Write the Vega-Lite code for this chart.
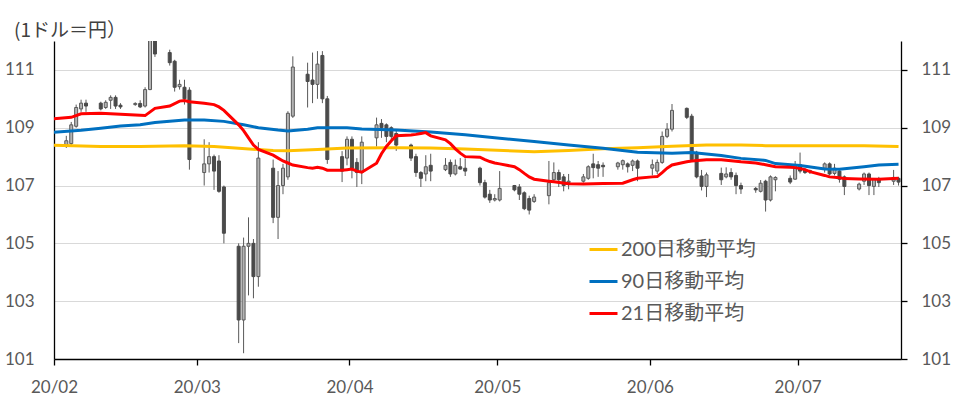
{
  "$schema": "https://vega.github.io/schema/vega-lite/v6.json",
  "width": 847,
  "height": 318,
  "autosize": {"type": "none"},
  "padding": {"left": 54, "top": 41, "right": 55, "bottom": 42},
  "background": "white",
  "config": {"view": {"stroke": null}, "font": "Lato"},
  "title": {"text": "(1ドル＝円）", "anchor": "start", "frame": "group", "dx": -40, "offset": 0, "font": "Noto Sans CJK JP", "fontSize": 19, "fontWeight": "normal", "color": "#404040"},
  "datasets": {
    "ohlc": [
      {"d":"2020-02-03","o":108.4,"h":108.72,"l":108.3,"c":108.55},
      {"d":"2020-02-04","o":108.45,"h":109.2,"l":108.4,"c":109.1},
      {"d":"2020-02-05","o":109.05,"h":109.8,"l":109.0,"c":109.7},
      {"d":"2020-02-06","o":109.65,"h":109.97,"l":109.55,"c":109.85},
      {"d":"2020-02-07","o":109.85,"h":109.97,"l":109.55,"c":109.75},
      {"d":"2020-02-10","o":109.85,"h":109.9,"l":109.6,"c":109.65},
      {"d":"2020-02-11","o":109.7,"h":109.95,"l":109.65,"c":109.88},
      {"d":"2020-02-12","o":109.95,"h":110.12,"l":109.65,"c":110.05},
      {"d":"2020-02-13","o":110.05,"h":110.12,"l":109.65,"c":109.75},
      {"d":"2020-02-14","o":109.78,"h":109.85,"l":109.65,"c":109.72},
      {"d":"2020-02-17","o":109.8,"h":109.88,"l":109.76,"c":109.84},
      {"d":"2020-02-18","o":109.84,"h":109.95,"l":109.68,"c":109.72},
      {"d":"2020-02-19","o":109.75,"h":110.4,"l":109.7,"c":110.32},
      {"d":"2020-02-20","o":110.32,"h":112.3,"l":110.3,"c":112.1},
      {"d":"2020-02-21","o":112.1,"h":112.2,"l":111.45,"c":111.55},
      {"d":"2020-02-24","o":111.6,"h":111.7,"l":111.15,"c":111.25},
      {"d":"2020-02-25","o":111.3,"h":111.35,"l":110.25,"c":110.4},
      {"d":"2020-02-26","o":110.42,"h":110.66,"l":110.32,"c":110.5},
      {"d":"2020-02-27","o":110.4,"h":110.66,"l":109.8,"c":110.0},
      {"d":"2020-02-28","o":110.3,"h":110.4,"l":107.55,"c":107.9},
      {"d":"2020-03-02","o":107.45,"h":108.6,"l":107.0,"c":107.75},
      {"d":"2020-03-03","o":107.75,"h":108.5,"l":107.45,"c":108.0},
      {"d":"2020-03-04","o":108.0,"h":108.07,"l":106.85,"c":107.5},
      {"d":"2020-03-05","o":107.85,"h":108.05,"l":106.75,"c":106.8},
      {"d":"2020-03-06","o":106.95,"h":107.0,"l":105.0,"c":105.35},
      {"d":"2020-03-09","o":104.9,"h":105.0,"l":101.55,"c":102.35},
      {"d":"2020-03-10","o":102.35,"h":105.2,"l":101.2,"c":104.9},
      {"d":"2020-03-11","o":104.9,"h":105.9,"l":103.2,"c":105.0},
      {"d":"2020-03-12","o":105.0,"h":105.15,"l":103.1,"c":103.85},
      {"d":"2020-03-13","o":103.85,"h":108.5,"l":103.5,"c":107.95},
      {"d":"2020-03-16","o":107.6,"h":107.9,"l":105.7,"c":105.9},
      {"d":"2020-03-17","o":105.9,"h":107.5,"l":105.15,"c":107.0},
      {"d":"2020-03-18","o":107.0,"h":107.75,"l":106.7,"c":107.6},
      {"d":"2020-03-19","o":107.3,"h":109.57,"l":107.2,"c":109.5},
      {"d":"2020-03-20","o":109.4,"h":111.47,"l":109.34,"c":111.1},
      {"d":"2020-03-23","o":110.85,"h":111.25,"l":109.7,"c":110.6},
      {"d":"2020-03-24","o":110.65,"h":111.6,"l":109.85,"c":110.5},
      {"d":"2020-03-25","o":110.5,"h":111.65,"l":110.0,"c":111.2},
      {"d":"2020-03-26","o":111.5,"h":111.65,"l":109.85,"c":110.0},
      {"d":"2020-03-27","o":110.0,"h":110.1,"l":107.75,"c":107.9},
      {"d":"2020-03-30","o":108.0,"h":108.19,"l":107.12,"c":107.5},
      {"d":"2020-03-31","o":107.95,"h":108.7,"l":107.7,"c":108.6},
      {"d":"2020-04-01","o":108.6,"h":108.7,"l":107.25,"c":107.6},
      {"d":"2020-04-02","o":107.8,"h":107.95,"l":106.95,"c":107.45},
      {"d":"2020-04-03","o":107.45,"h":108.7,"l":107.05,"c":108.5},
      {"d":"2020-04-06","o":108.65,"h":109.35,"l":108.35,"c":109.1},
      {"d":"2020-04-07","o":109.15,"h":109.3,"l":108.65,"c":109.0},
      {"d":"2020-04-08","o":109.1,"h":109.15,"l":108.5,"c":108.7},
      {"d":"2020-04-09","o":109.0,"h":109.05,"l":108.55,"c":108.7},
      {"d":"2020-04-10","o":108.8,"h":108.9,"l":108.2,"c":108.4},
      {"d":"2020-04-13","o":108.4,"h":108.45,"l":107.85,"c":107.95},
      {"d":"2020-04-14","o":108.0,"h":108.1,"l":107.3,"c":107.45},
      {"d":"2020-04-15","o":107.45,"h":107.5,"l":106.95,"c":107.25},
      {"d":"2020-04-16","o":107.4,"h":108.05,"l":107.15,"c":107.65},
      {"d":"2020-04-17","o":107.7,"h":108.1,"l":107.15,"c":107.5},
      {"d":"2020-04-20","o":107.55,"h":107.95,"l":107.5,"c":107.7},
      {"d":"2020-04-21","o":107.8,"h":107.9,"l":107.3,"c":107.4},
      {"d":"2020-04-22","o":107.4,"h":107.9,"l":107.35,"c":107.7},
      {"d":"2020-04-23","o":107.65,"h":107.95,"l":107.55,"c":107.57},
      {"d":"2020-04-24","o":107.6,"h":107.94,"l":107.33,"c":107.5},
      {"d":"2020-04-27","o":107.6,"h":107.65,"l":107.0,"c":107.1},
      {"d":"2020-04-28","o":107.1,"h":107.2,"l":106.55,"c":106.6},
      {"d":"2020-04-29","o":106.7,"h":106.85,"l":106.4,"c":106.5},
      {"d":"2020-04-30","o":106.5,"h":106.7,"l":106.45,"c":106.55},
      {"d":"2020-05-01","o":106.5,"h":107.5,"l":106.45,"c":106.9},
      {"d":"2020-05-04","o":107.0,"h":107.02,"l":106.8,"c":106.85},
      {"d":"2020-05-05","o":106.95,"h":107.05,"l":106.5,"c":106.7},
      {"d":"2020-05-06","o":106.75,"h":106.8,"l":106.15,"c":106.2},
      {"d":"2020-05-07","o":106.55,"h":106.65,"l":106.0,"c":106.15},
      {"d":"2020-05-08","o":106.45,"h":106.7,"l":106.4,"c":106.6},
      {"d":"2020-05-11","o":106.65,"h":107.85,"l":106.35,"c":107.1},
      {"d":"2020-05-12","o":107.2,"h":107.8,"l":107.1,"c":107.45},
      {"d":"2020-05-13","o":107.45,"h":107.55,"l":106.95,"c":107.2},
      {"d":"2020-05-14","o":107.3,"h":107.4,"l":106.8,"c":107.0},
      {"d":"2020-05-15","o":107.1,"h":107.4,"l":106.87,"c":107.15},
      {"d":"2020-05-18","o":107.15,"h":107.4,"l":107.1,"c":107.3},
      {"d":"2020-05-19","o":107.25,"h":107.7,"l":107.2,"c":107.65},
      {"d":"2020-05-20","o":107.75,"h":108.1,"l":107.25,"c":107.62},
      {"d":"2020-05-21","o":107.72,"h":107.85,"l":107.3,"c":107.6},
      {"d":"2020-05-22","o":107.7,"h":107.8,"l":107.3,"c":107.65},
      {"d":"2020-05-25","o":107.65,"h":107.82,"l":107.55,"c":107.78},
      {"d":"2020-05-26","o":107.72,"h":107.9,"l":107.55,"c":107.86},
      {"d":"2020-05-27","o":107.75,"h":107.8,"l":107.45,"c":107.65},
      {"d":"2020-05-28","o":107.7,"h":107.9,"l":107.5,"c":107.85},
      {"d":"2020-05-29","o":107.85,"h":107.9,"l":107.15,"c":107.6},
      {"d":"2020-06-01","o":107.6,"h":107.9,"l":107.35,"c":107.72},
      {"d":"2020-06-02","o":107.5,"h":107.9,"l":107.4,"c":107.8},
      {"d":"2020-06-03","o":107.8,"h":108.87,"l":107.75,"c":108.7},
      {"d":"2020-06-04","o":108.7,"h":109.16,"l":108.64,"c":108.95},
      {"d":"2020-06-05","o":108.95,"h":109.82,"l":108.87,"c":109.6},
      {"d":"2020-06-08","o":109.67,"h":109.7,"l":109.3,"c":109.36},
      {"d":"2020-06-09","o":109.4,"h":109.48,"l":107.83,"c":107.9},
      {"d":"2020-06-10","o":108.15,"h":108.2,"l":107.25,"c":107.3},
      {"d":"2020-06-11","o":107.33,"h":107.54,"l":106.83,"c":106.97},
      {"d":"2020-06-12","o":106.97,"h":107.45,"l":106.6,"c":107.37},
      {"d":"2020-06-15","o":107.42,"h":107.62,"l":107.02,"c":107.2},
      {"d":"2020-06-16","o":107.3,"h":107.63,"l":107.25,"c":107.4},
      {"d":"2020-06-17","o":107.45,"h":107.6,"l":107.2,"c":107.3},
      {"d":"2020-06-18","o":107.35,"h":107.45,"l":106.7,"c":107.0},
      {"d":"2020-06-19","o":107.0,"h":107.1,"l":106.71,"c":106.88},
      {"d":"2020-06-22","o":106.9,"h":106.95,"l":106.75,"c":106.85},
      {"d":"2020-06-23","o":106.8,"h":107.19,"l":106.76,"c":107.08},
      {"d":"2020-06-24","o":107.15,"h":107.2,"l":106.1,"c":106.5},
      {"d":"2020-06-25","o":106.5,"h":107.35,"l":106.45,"c":107.3},
      {"d":"2020-06-26","o":107.2,"h":107.32,"l":106.8,"c":107.28},
      {"d":"2020-06-29","o":107.25,"h":107.35,"l":107.05,"c":107.12},
      {"d":"2020-06-30","o":107.22,"h":107.85,"l":107.2,"c":107.7},
      {"d":"2020-07-01","o":107.72,"h":108.14,"l":107.42,"c":107.5},
      {"d":"2020-07-02","o":107.55,"h":107.6,"l":107.4,"c":107.45},
      {"d":"2020-07-03","o":107.5,"h":107.55,"l":107.4,"c":107.52},
      {"d":"2020-07-06","o":107.6,"h":107.8,"l":107.45,"c":107.75},
      {"d":"2020-07-07","o":107.75,"h":107.8,"l":107.35,"c":107.4},
      {"d":"2020-07-08","o":107.42,"h":107.75,"l":107.35,"c":107.6},
      {"d":"2020-07-09","o":107.5,"h":107.55,"l":107.1,"c":107.22},
      {"d":"2020-07-10","o":107.3,"h":107.35,"l":106.67,"c":106.97},
      {"d":"2020-07-13","o":106.88,"h":107.1,"l":106.83,"c":107.05},
      {"d":"2020-07-14","o":107.15,"h":107.45,"l":107.02,"c":107.4},
      {"d":"2020-07-15","o":107.4,"h":107.45,"l":106.67,"c":107.0},
      {"d":"2020-07-16","o":106.97,"h":107.25,"l":106.67,"c":107.22},
      {"d":"2020-07-17","o":107.2,"h":107.3,"l":106.95,"c":107.1},
      {"d":"2020-07-20","o":107.15,"h":107.54,"l":107.02,"c":107.28},
      {"d":"2020-07-21","o":107.25,"h":107.3,"l":107.0,"c":107.12}
    ],
    "ma": [
      {"d":"2020-01-31","s":"200日移動平均","v":108.4},
      {"d":"2020-02-10","s":"200日移動平均","v":108.35},
      {"d":"2020-02-18","s":"200日移動平均","v":108.35},
      {"d":"2020-02-27","s":"200日移動平均","v":108.38},
      {"d":"2020-03-04","s":"200日移動平均","v":108.35},
      {"d":"2020-03-09","s":"200日移動平均","v":108.29},
      {"d":"2020-03-16","s":"200日移動平均","v":108.21},
      {"d":"2020-03-19","s":"200日移動平均","v":108.2},
      {"d":"2020-03-25","s":"200日移動平均","v":108.25},
      {"d":"2020-03-31","s":"200日移動平均","v":108.3},
      {"d":"2020-04-10","s":"200日移動平均","v":108.31},
      {"d":"2020-04-17","s":"200日移動平均","v":108.3},
      {"d":"2020-04-24","s":"200日移動平均","v":108.26},
      {"d":"2020-05-08","s":"200日移動平均","v":108.17},
      {"d":"2020-05-15","s":"200日移動平均","v":108.21},
      {"d":"2020-05-22","s":"200日移動平均","v":108.27},
      {"d":"2020-05-29","s":"200日移動平均","v":108.31},
      {"d":"2020-06-05","s":"200日移動平均","v":108.36},
      {"d":"2020-06-12","s":"200日移動平均","v":108.4},
      {"d":"2020-06-19","s":"200日移動平均","v":108.4},
      {"d":"2020-06-24","s":"200日移動平均","v":108.38},
      {"d":"2020-07-01","s":"200日移動平均","v":108.38},
      {"d":"2020-07-14","s":"200日移動平均","v":108.38},
      {"d":"2020-07-21","s":"200日移動平均","v":108.35},
      {"d":"2020-01-31","s":"90日移動平均","v":108.84},
      {"d":"2020-02-06","s":"90日移動平均","v":108.91},
      {"d":"2020-02-10","s":"90日移動平均","v":108.98},
      {"d":"2020-02-14","s":"90日移動平均","v":109.06},
      {"d":"2020-02-18","s":"90日移動平均","v":109.1},
      {"d":"2020-02-21","s":"90日移動平均","v":109.18},
      {"d":"2020-02-24","s":"90日移動平均","v":109.22},
      {"d":"2020-02-27","s":"90日移動平均","v":109.27},
      {"d":"2020-03-02","s":"90日移動平均","v":109.27},
      {"d":"2020-03-06","s":"90日移動平均","v":109.22},
      {"d":"2020-03-10","s":"90日移動平均","v":109.1},
      {"d":"2020-03-13","s":"90日移動平均","v":109.0},
      {"d":"2020-03-17","s":"90日移動平均","v":108.92},
      {"d":"2020-03-19","s":"90日移動平均","v":108.89},
      {"d":"2020-03-23","s":"90日移動平均","v":108.95},
      {"d":"2020-03-25","s":"90日移動平均","v":109.0},
      {"d":"2020-03-31","s":"90日移動平均","v":109.0},
      {"d":"2020-04-03","s":"90日移動平均","v":108.96},
      {"d":"2020-04-10","s":"90日移動平均","v":108.92},
      {"d":"2020-04-17","s":"90日移動平均","v":108.85},
      {"d":"2020-04-24","s":"90日移動平均","v":108.76},
      {"d":"2020-05-01","s":"90日移動平均","v":108.64},
      {"d":"2020-05-08","s":"90日移動平均","v":108.52},
      {"d":"2020-05-15","s":"90日移動平均","v":108.4},
      {"d":"2020-05-22","s":"90日移動平均","v":108.29},
      {"d":"2020-05-29","s":"90日移動平均","v":108.15},
      {"d":"2020-06-05","s":"90日移動平均","v":108.12},
      {"d":"2020-06-09","s":"90日移動平均","v":108.14},
      {"d":"2020-06-15","s":"90日移動平均","v":108.04},
      {"d":"2020-06-19","s":"90日移動平均","v":107.94},
      {"d":"2020-06-24","s":"90日移動平均","v":107.87},
      {"d":"2020-06-26","s":"90日移動平均","v":107.76},
      {"d":"2020-07-01","s":"90日移動平均","v":107.69},
      {"d":"2020-07-06","s":"90日移動平均","v":107.57},
      {"d":"2020-07-09","s":"90日移動平均","v":107.56},
      {"d":"2020-07-14","s":"90日移動平均","v":107.65},
      {"d":"2020-07-17","s":"90日移動平均","v":107.71},
      {"d":"2020-07-21","s":"90日移動平均","v":107.74},
      {"d":"2020-01-31","s":"21日移動平均","v":109.3},
      {"d":"2020-02-04","s":"21日移動平均","v":109.36},
      {"d":"2020-02-06","s":"21日移動平均","v":109.48},
      {"d":"2020-02-10","s":"21日移動平均","v":109.5},
      {"d":"2020-02-14","s":"21日移動平均","v":109.47},
      {"d":"2020-02-17","s":"21日移動平均","v":109.44},
      {"d":"2020-02-19","s":"21日移動平均","v":109.42},
      {"d":"2020-02-21","s":"21日移動平均","v":109.67},
      {"d":"2020-02-24","s":"21日移動平均","v":109.75},
      {"d":"2020-02-26","s":"21日移動平均","v":109.92},
      {"d":"2020-02-27","s":"21日移動平均","v":109.94},
      {"d":"2020-02-28","s":"21日移動平均","v":109.9},
      {"d":"2020-03-02","s":"21日移動平均","v":109.85},
      {"d":"2020-03-04","s":"21日移動平均","v":109.8},
      {"d":"2020-03-05","s":"21日移動平均","v":109.72},
      {"d":"2020-03-06","s":"21日移動平均","v":109.6},
      {"d":"2020-03-09","s":"21日移動平均","v":109.1},
      {"d":"2020-03-10","s":"21日移動平均","v":108.9},
      {"d":"2020-03-11","s":"21日移動平均","v":108.65},
      {"d":"2020-03-12","s":"21日移動平均","v":108.4},
      {"d":"2020-03-13","s":"21日移動平均","v":108.25},
      {"d":"2020-03-16","s":"21日移動平均","v":108.05},
      {"d":"2020-03-17","s":"21日移動平均","v":107.95},
      {"d":"2020-03-18","s":"21日移動平均","v":107.85},
      {"d":"2020-03-19","s":"21日移動平均","v":107.78},
      {"d":"2020-03-20","s":"21日移動平均","v":107.71},
      {"d":"2020-03-23","s":"21日移動平均","v":107.62},
      {"d":"2020-03-24","s":"21日移動平均","v":107.6},
      {"d":"2020-03-25","s":"21日移動平均","v":107.63},
      {"d":"2020-03-26","s":"21日移動平均","v":107.6},
      {"d":"2020-03-27","s":"21日移動平均","v":107.53},
      {"d":"2020-03-30","s":"21日移動平均","v":107.53},
      {"d":"2020-03-31","s":"21日移動平均","v":107.55},
      {"d":"2020-04-01","s":"21日移動平均","v":107.57},
      {"d":"2020-04-02","s":"21日移動平均","v":107.5},
      {"d":"2020-04-03","s":"21日移動平均","v":107.46},
      {"d":"2020-04-06","s":"21日移動平均","v":107.77},
      {"d":"2020-04-07","s":"21日移動平均","v":108.1},
      {"d":"2020-04-08","s":"21日移動平均","v":108.35},
      {"d":"2020-04-09","s":"21日移動平均","v":108.55},
      {"d":"2020-04-10","s":"21日移動平均","v":108.72},
      {"d":"2020-04-13","s":"21日移動平均","v":108.75},
      {"d":"2020-04-14","s":"21日移動平均","v":108.77},
      {"d":"2020-04-15","s":"21日移動平均","v":108.8},
      {"d":"2020-04-16","s":"21日移動平均","v":108.83},
      {"d":"2020-04-17","s":"21日移動平均","v":108.72},
      {"d":"2020-04-20","s":"21日移動平均","v":108.58},
      {"d":"2020-04-21","s":"21日移動平均","v":108.45},
      {"d":"2020-04-22","s":"21日移動平均","v":108.27},
      {"d":"2020-04-23","s":"21日移動平均","v":108.12},
      {"d":"2020-04-24","s":"21日移動平均","v":108.0},
      {"d":"2020-04-27","s":"21日移動平均","v":107.98},
      {"d":"2020-04-28","s":"21日移動平均","v":107.9},
      {"d":"2020-04-29","s":"21日移動平均","v":107.83},
      {"d":"2020-04-30","s":"21日移動平均","v":107.78},
      {"d":"2020-05-01","s":"21日移動平均","v":107.75},
      {"d":"2020-05-04","s":"21日移動平均","v":107.65},
      {"d":"2020-05-05","s":"21日移動平均","v":107.55},
      {"d":"2020-05-06","s":"21日移動平均","v":107.42},
      {"d":"2020-05-07","s":"21日移動平均","v":107.3},
      {"d":"2020-05-08","s":"21日移動平均","v":107.22},
      {"d":"2020-05-11","s":"21日移動平均","v":107.15},
      {"d":"2020-05-12","s":"21日移動平均","v":107.13},
      {"d":"2020-05-15","s":"21日移動平均","v":107.06},
      {"d":"2020-05-18","s":"21日移動平均","v":107.05},
      {"d":"2020-05-22","s":"21日移動平均","v":107.07},
      {"d":"2020-05-26","s":"21日移動平均","v":107.08},
      {"d":"2020-05-28","s":"21日移動平均","v":107.2},
      {"d":"2020-05-29","s":"21日移動平均","v":107.25},
      {"d":"2020-06-01","s":"21日移動平均","v":107.3},
      {"d":"2020-06-02","s":"21日移動平均","v":107.31},
      {"d":"2020-06-03","s":"21日移動平均","v":107.45},
      {"d":"2020-06-04","s":"21日移動平均","v":107.6},
      {"d":"2020-06-05","s":"21日移動平均","v":107.71},
      {"d":"2020-06-08","s":"21日移動平均","v":107.82},
      {"d":"2020-06-09","s":"21日移動平均","v":107.85},
      {"d":"2020-06-12","s":"21日移動平均","v":107.89},
      {"d":"2020-06-15","s":"21日移動平均","v":107.89},
      {"d":"2020-06-19","s":"21日移動平均","v":107.82},
      {"d":"2020-06-22","s":"21日移動平均","v":107.78},
      {"d":"2020-06-24","s":"21日移動平均","v":107.72},
      {"d":"2020-06-26","s":"21日移動平均","v":107.65},
      {"d":"2020-06-29","s":"21日移動平均","v":107.63},
      {"d":"2020-06-30","s":"21日移動平均","v":107.62},
      {"d":"2020-07-02","s":"21日移動平均","v":107.55},
      {"d":"2020-07-03","s":"21日移動平均","v":107.48},
      {"d":"2020-07-06","s":"21日移動平均","v":107.35},
      {"d":"2020-07-07","s":"21日移動平均","v":107.3},
      {"d":"2020-07-09","s":"21日移動平均","v":107.27},
      {"d":"2020-07-10","s":"21日移動平均","v":107.24},
      {"d":"2020-07-13","s":"21日移動平均","v":107.23},
      {"d":"2020-07-17","s":"21日移動平均","v":107.22},
      {"d":"2020-07-20","s":"21日移動平均","v":107.24},
      {"d":"2020-07-21","s":"21日移動平均","v":107.25}
    ]
  },
  "layer": [
    {
      "data": {"name": "ohlc"},
      "mark": {"type": "rule", "color": "#595959", "strokeWidth": 1, "clip": true},
      "encoding": {
        "x": {
          "field": "d", "type": "temporal",
          "scale": {"type": "utc", "nice": false, "padding": 0, "domain": [{"year": 2020, "month": 1, "date": 31, "hours": 12, "utc": true}, {"year": 2020, "month": 7, "date": 21, "hours": 12, "utc": true}]},
          "axis": {
            "values": [
              {"year": 2020, "month": 1, "date": 31, "hours": 12, "utc": true},
              {"year": 2020, "month": 2, "date": 29, "hours": 12, "utc": true},
              {"year": 2020, "month": 3, "date": 31, "hours": 12, "utc": true},
              {"year": 2020, "month": 4, "date": 30, "hours": 12, "utc": true},
              {"year": 2020, "month": 5, "date": 31, "hours": 12, "utc": true},
              {"year": 2020, "month": 6, "date": 30, "hours": 12, "utc": true}
            ],
            "labelExpr": "utcFormat(datum.value + 43200000, '%y/%m')",
            "title": null, "grid": false,
            "domainColor": "#000000", "domainWidth": 1.3,
            "tickColor": "#000000", "tickSize": 6, "tickWidth": 1.3,
            "labelFontSize": 17, "labelColor": "#595959", "labelFont": "Lato",
            "labelPadding": 14, "labelFlush": false, "labelOverlap": false
          }
        },
        "y": {
          "field": "l", "type": "quantitative",
          "scale": {"domain": [101, 112], "nice": false, "zero": false},
          "axis": {
            "values": [101, 103, 105, 107, 109, 111], "title": null,
            "ticks": false, "domainColor": "#000000", "domainWidth": 1.3,
            "grid": true, "gridColor": "#d9d9d9", "gridWidth": 1,
            "labelFontSize": 17, "labelColor": "#595959", "labelFont": "Lato", "labelPadding": 20
          }
        },
        "y2": {"field": "h"}
      }
    },
    {
      "data": {"name": "ohlc"},
      "mark": {"type": "bar", "size": 3, "strokeWidth": 1, "clip": true},
      "encoding": {
        "x": {"field": "d", "type": "temporal"},
        "y": {
          "field": "o", "type": "quantitative",
          "axis": {
            "orient": "right", "values": [101, 103, 105, 107, 109, 111], "title": null,
            "grid": false, "ticks": true, "tickSize": 6, "tickColor": "#000000", "tickWidth": 1.3,
            "domainColor": "#000000", "domainWidth": 1.3,
            "labelFontSize": 17, "labelColor": "#595959", "labelFont": "Lato", "labelPadding": 14
          }
        },
        "y2": {"field": "c"},
        "fill": {"condition": {"test": "datum.c >= datum.o", "value": "#b3b3b3"}, "value": "#4a4a4a"},
        "stroke": {"condition": {"test": "datum.c >= datum.o", "value": "#595959"}, "value": "#4a4a4a"}
      }
    },
    {
      "data": {"name": "ma"},
      "mark": {"type": "line", "strokeWidth": 3, "clip": true},
      "encoding": {
        "x": {"field": "d", "type": "temporal"},
        "y": {"field": "v", "type": "quantitative", "axis": null},
        "color": {
          "field": "s", "type": "nominal",
          "scale": {"domain": ["200日移動平均", "90日移動平均", "21日移動平均"], "range": ["#FFC000", "#0070C0", "#FF0000"]},
          "legend": {
            "orient": "none", "legendX": 534, "legendY": 193, "title": null,
            "symbolType": "stroke", "symbolSize": 784, "symbolStrokeWidth": 3,
            "labelFontSize": 20, "labelFont": "Lato, Noto Sans CJK JP", "labelColor": "#595959",
            "labelOffset": 2, "rowPadding": 6, "padding": 0
          }
        }
      }
    }
  ],
  "resolve": {"axis": {"y": "independent"}}
}
